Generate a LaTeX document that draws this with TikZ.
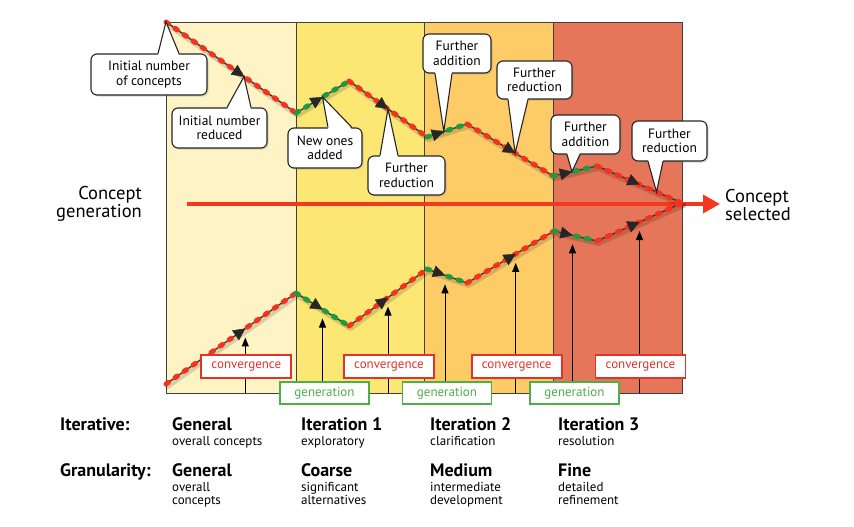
\documentclass[tikz,border=0pt]{standalone}
\usepackage{fontspec}
\setmainfont{PT Sans}
\usetikzlibrary{arrows.meta,decorations.markings,shadows}
\definecolor{phaseA}{HTML}{FDF3C5}
\definecolor{phaseB}{HTML}{FCE774}
\definecolor{phaseC}{HTML}{FDCC67}
\definecolor{phaseD}{HTML}{E5765A}
\definecolor{dotred}{HTML}{F5321E}
\definecolor{dotgreen}{HTML}{1E9A40}
\definecolor{convred}{HTML}{E2332A}
\definecolor{gengreen}{HTML}{4DAE4A}
\definecolor{mainred}{HTML}{F2381F}
\tikzset{
  trail/.style={draw=black!80, line width=1.3pt},
  beads/.style={draw=#1, line width=5pt, line cap=round, dash pattern=on 3pt off 8pt},
  tipmark/.style={postaction={decorate}, decoration={markings,
      mark=at position #1 with {\arrow{Triangle[length=12pt,width=12pt]}}}},
  callout/.style={draw=black!85, line width=1.1pt, fill=white, rounded corners=6pt,
      align=center, inner sep=0pt, font=\fontsize{13.5}{14.5}\selectfont,
      drop shadow={shadow xshift=1.5pt, shadow yshift=-1.5pt, opacity=.3}},
  pinline/.style={draw=black!85, line width=1.1pt},
  convbox/.style={draw=convred, line width=1.8pt, fill=white, text=convred,
      minimum width=90pt, minimum height=23pt, inner sep=0pt, font=\fontsize{13}{14}\selectfont},
  genbox/.style={draw=gengreen, line width=1.8pt, fill=white, text=gengreen,
      minimum width=89pt, minimum height=22pt, inner sep=0pt, font=\fontsize{13}{14}\selectfont},
  uparrow/.style={-{Triangle[length=9pt,width=7pt]}, line width=1pt, black},
  rowhead/.style={anchor=base west, inner sep=0pt, font=\fontsize{18}{20}\selectfont\bfseries},
  rowsub/.style={anchor=base west, inner sep=0pt, align=left, font=\fontsize{13}{13.5}\selectfont},
  sidelabel/.style={inner sep=0pt, font=\fontsize{18.5}{16.5}\selectfont}
}
% pointer of a callout: box, side, inward shift, left and right offset, tip
\newcommand\pin[6]{%
  \fill[white] ([xshift=#4pt,yshift=#3pt]#1.#2) -- (#6) -- ([xshift=#5pt,yshift=#3pt]#1.#2) -- cycle;
  \draw[pinline] ([xshift=#4pt]#1.#2) -- (#6) -- ([xshift=#5pt]#1.#2);}
\begin{document}
\begin{tikzpicture}[x=1pt,y=-1pt]
\useasboundingbox (0,0) rectangle (854,527);
% ------ the four phases -----------------
\fill[phaseA] (166,22) rectangle (296,393);
\fill[phaseB] (296,22) rectangle (424,393);
\fill[phaseC] (424,22) rectangle (553,393);
\fill[phaseD] (553,22) rectangle (682,393);
\coordinate (panelbot) at (0,393);
\foreach \x in {296,424,553} \draw[black!75, line width=.9pt] (\x,22) -- (\x,393);
\draw[black!75, line width=.9pt] (166,22) rectangle (682,393);
% ------ main arrow -----------------
\coordinate (arrowstart) at (187,204);
\coordinate (arrowend) at (720,204);
\draw[mainred, line width=3.5pt, -{Triangle[length=17pt,width=18pt]}] (arrowstart) -- (arrowend);
\node[sidelabel, align=right, anchor=east] (cgen) at (142,204) {Concept\\generation};
\node[sidelabel, align=left, anchor=west] (csel) at (725,205) {Concept\\selected};
% ------ upper path -----------------
\foreach \n/\p in {0/{166,22},1/{296,113},2/{349,81},3/{427,137},4/{467,124},5/{553,176},6/{597,166},7/{682,203}}
  \coordinate (t\n) at (\p);
\draw[black, opacity=.15, line width=5pt, line cap=round, line join=round,
  transform canvas={shift={(1.5pt,-2.5pt)}}] (t0) -- (t1) -- (t2) -- (t3) -- (t4) -- (t5) -- (t6) -- (t7);
\foreach \a/\b/\c/\p [count=\i] in {t0/t1/dotred/.6, t1/t2/dotgreen/.5, t2/t3/dotred/.5,
    t3/t4/dotgreen/.42, t4/t5/dotred/.56, t5/t6/dotgreen/.43, t6/t7/dotred/.5} {
  \draw[trail] (\a) -- (\b);
  \draw[beads=\c] (\a) -- (\b);
  \path[black!85, tipmark=\p] (\a) -- coordinate[pos=\p] (um\i) (\b);
}
\path (t6) -- coordinate[pos=.7] (ut8) (t7);
% ------ lower path -----------------
\foreach \n/\p in {0/{166,384},1/{296,293},2/{349,326},3/{427,269},4/{467,283},5/{554,231},6/{597,241},7/{682,203}}
  \coordinate (b\n) at (\p);
\draw[black, opacity=.15, line width=5pt, line cap=round, line join=round,
  transform canvas={shift={(1.5pt,-2.5pt)}}] (b0) -- (b1) -- (b2) -- (b3) -- (b4) -- (b5) -- (b6) -- (b7);
\foreach \a/\b/\c/\p [count=\i] in {b0/b1/dotred/.61, b1/b2/dotgreen/.5, b2/b3/dotred/.5,
    b3/b4/dotgreen/.45, b4/b5/dotred/.56, b5/b6/dotgreen/.43, b6/b7/dotred/.5} {
  \draw[trail] (\a) -- (\b);
  \draw[beads=\c] (\a) -- (\b);
  \path[black!85, tipmark=\p] (\a) -- coordinate[pos=\p] (lm\i) (\b);
}
% ------ convergence / generation -----------------
\coordinate (convrow) at (0,366.5);
\coordinate (genrow) at (0,393);
\foreach \i in {1,...,7} \draw[uparrow] (lm\i |- panelbot) -- ([yshift=-9pt]lm\i);
\foreach \i/\m in {1/1,2/3,3/5,4/7} \node[convbox] (conv\i) at ([xshift=1pt]lm\m |- convrow) {convergence};
\foreach \i/\m in {1/2,2/4,3/6} \node[genbox] (gen\i) at ([xshift=2pt]lm\m |- genrow) {generation};
% ------ callouts -----------------
\node[callout, minimum width=116pt, minimum height=41pt] (c1) at (149,74.5) {Initial number\\of concepts};
\pin{c1}{north}{-2}{9}{30}{t0}
\node[callout, minimum width=95pt, minimum height=40pt] (c2) at (219.5,128) {Initial number\\reduced};
\pin{c2}{north}{-2}{7.5}{31.5}{um1}
\node[callout, minimum width=74pt, minimum height=40pt] (c3) at (325,148) {New ones\\added};
\pin{c3}{north}{-2}{3}{27}{um2}
\node[callout, minimum width=77pt, minimum height=39pt] (c4) at (406.5,175.5) {Further\\reduction};
\pin{c4}{north}{-2}{-26.5}{-8.5}{um3}
\node[callout, minimum width=68pt, minimum height=39pt] (c5) at (457,53.5) {Further\\addition};
\pin{c5}{south}{2}{-22}{-5}{um4}
\node[callout, minimum width=75pt, minimum height=38pt] (c6) at (534.5,80) {Further\\reduction};
\pin{c6}{south}{2}{-26.5}{-6.5}{um5}
\node[callout, minimum width=69pt, minimum height=39pt] (c7) at (585.5,134.5) {Further\\addition};
\pin{c7}{south}{2}{-18.5}{-5.5}{um6}
\node[callout, minimum width=75pt, minimum height=40pt] (c8) at (669.5,141) {Further\\reduction};
\pin{c8}{south}{2}{-21.5}{-6.5}{ut8}
% ------ rows below -----------------
\node[rowhead] (iterhead) at (60,430) {Iterative:};
\node[rowhead] (granhead) at (60,476) {Granularity:};
\foreach \x/\it/\itsub/\gr/\grsub in {172/General/overall concepts/General/{overall\\concepts},
    301/Iteration 1/exploratory/Coarse/{significant\\alternatives},
    430/Iteration 2/clarification/Medium/{intermediate\\development},
    558/Iteration 3/resolution/Fine/{detailed\\refinement}} {
  \node[rowhead] at (\x,430) {\it};
  \node[rowsub] at (\x,445) {\itsub};
  \node[rowhead] at (\x,476) {\gr};
  \node[rowsub] at (\x,504.5) {\grsub};
}
\end{tikzpicture}
\end{document}
